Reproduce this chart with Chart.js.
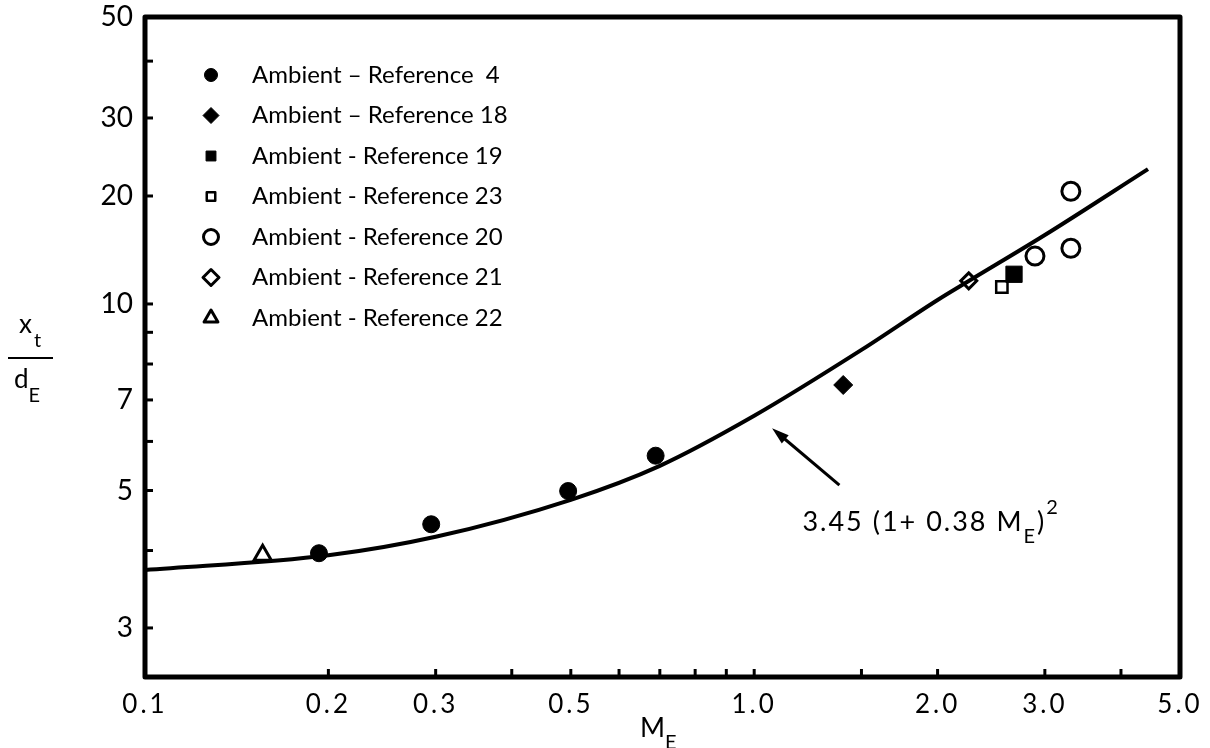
<!DOCTYPE html>
<html>
<head>
<meta charset="utf-8">
<script src="https://cdn.jsdelivr.net/npm/chart.js@4.4.1/dist/chart.umd.min.js"></script>
<style>
  html, body { margin: 0; padding: 0; background: #fff; }
  #wrap { width: 1210px; height: 748px; }
</style>
</head>
<body>
<div id="wrap"><canvas id="jet"></canvas></div>
<script>
// penetration length x_t/d_E against exit Mach number, ambient jets
const machRef4 = [0.193, 0.295, 0.495, 0.689];
const lenRef4 = [3.96, 4.41, 4.99, 5.69];
const machRef18 = [1.40];
const lenRef18 = [7.40];
const machRef19 = [2.67];
const lenRef19 = [12.1];
const machRef23 = [2.55];
const lenRef23 = [11.15];
const machRef20 = [2.89, 3.31, 3.31];
const lenRef20 = [13.6, 14.3, 20.5];
const machRef21 = [2.25];
const lenRef21 = [11.6];
const machRef22 = [0.156];
const lenRef22 = [3.93];

// correlation curve 3.45 (1 + 0.38 M_E)^2
const machFit = [0.1, 0.2, 0.3, 0.5, 0.7, 1.0, 1.5, 2.0, 2.25, 3.0, 4.43];
const lenFit = [3.72, 3.93, 4.21, 4.83, 5.48, 6.60, 8.43, 10.26, 11.59, 15.57, 23.0];

const xTickLabels = [0.1, 0.2, 0.3, 0.5, 1.0, 2.0, 3.0, 5.0];
const xMinorTicks = [0.4, 0.6, 0.7, 0.8, 0.9, 1.5, 4.0];
const yTickLabels = [3, 5, 7, 10, 20, 30, 50];
const yMinorTicks = [4, 6, 8, 9, 40];

const FONT = 'Lato, "Open Sans", sans-serif';

// log axis whose cycles are not all the same height (knots: value -> fraction of axis)
class BrokenLogScale extends Chart.LogarithmicScale {
  static id = 'brokenLog';
  static defaults = Chart.LogarithmicScale.defaults;

  getPixelForValue(value) {
    if (value === null || value === undefined || isNaN(value) || value <= 0) return NaN;
    const k = this.options.knots;
    let i = 0;
    while (i < k.length - 2 && value > k[i + 1][0]) i++;
    const a = k[i], b = k[i + 1];
    const t = (Math.log10(value) - Math.log10(a[0])) / (Math.log10(b[0]) - Math.log10(a[0]));
    return this.getPixelForDecimal(a[1] + t * (b[1] - a[1]));
  }

  getValueForPixel(pixel) {
    const d = this.getDecimalForPixel(pixel);
    const k = this.options.knots;
    let i = 0;
    while (i < k.length - 2 && d > k[i + 1][1]) i++;
    const a = k[i], b = k[i + 1];
    const t = (d - a[1]) / (b[1] - a[1]);
    return Math.pow(10, Math.log10(a[0]) + t * (Math.log10(b[0]) - Math.log10(a[0])));
  }
}
Chart.register(BrokenLogScale);

function pts(xs, ys) {
  return xs.map((x, i) => ({ x: x, y: ys[i] }));
}

function markers(label, xs, ys, style, radius, filled, border, legendRadius) {
  return {
    type: 'scatter',
    label: label,
    data: pts(xs, ys),
    pointStyle: style,
    pointRadius: radius,
    pointBackgroundColor: filled ? '#000' : '#fff',
    pointBorderColor: '#000',
    pointBorderWidth: border,
    legendRadius: legendRadius
  };
}

const datasets = [
  {
    type: 'line',
    label: 'fit',
    data: pts(machFit, lenFit),
    borderColor: '#000',
    borderWidth: 4,
    pointRadius: 0,
    cubicInterpolationMode: 'monotone',
    fill: false
  },
  markers('Ambient \u2013 Reference  4', machRef4, lenRef4, 'circle', 8.5, true, 1, 6.5),
  markers('Ambient \u2013 Reference 18', machRef18, lenRef18, 'rectRot', 9.5, true, 1, 8),
  markers('Ambient - Reference 19', machRef19, lenRef19, 'rect', 11.5, true, 1, 7),
  markers('Ambient - Reference 23', machRef23, lenRef23, 'rect', 8, false, 2.5, 6),
  markers('Ambient - Reference 20', machRef20, lenRef20, 'circle', 9, false, 3, 7.5),
  markers('Ambient - Reference 21', machRef21, lenRef21, 'rectRot', 8, false, 3, 8),
  markers('Ambient - Reference 22', machRef22, lenRef22, 'triangle', 10, false, 3, 8)
];

function drawSubText(ctx, x, y, parts) {
  // parts: [text, size, dy, extra gap]
  parts.forEach(p => {
    ctx.font = p[1] + 'px ' + FONT;
    ctx.fillText(p[0], x, y + p[2]);
    x += ctx.measureText(p[0]).width + (p[3] || 0);
  });
  return x;
}

const decorations = {
  id: 'decorations',
  afterLayout(chart) {
    // spaced-out figures along the Mach axis
    const s = chart.scales.x;
    if (!s._spaced) {
      const orig = s.drawLabels;
      s.drawLabels = function (area) {
        this.ctx.save();
        this.ctx.letterSpacing = '3px';
        orig.call(this, area);
        this.ctx.restore();
      };
      s._spaced = true;
    }
  },
  afterDatasetsDraw(chart) {
    const ctx = chart.ctx;
    const a = chart.chartArea;
    const xs = chart.scales.x, ys = chart.scales.y;
    ctx.save();
    ctx.strokeStyle = '#000';
    ctx.fillStyle = '#000';

    // frame
    ctx.lineWidth = 5;
    ctx.lineJoin = 'round';
    ctx.strokeRect(a.left, a.top, a.right - a.left, a.bottom - a.top);

    // inward tick marks
    ctx.lineWidth = 3;
    ctx.lineCap = 'butt';
    xTickLabels.concat(xMinorTicks).forEach(v => {
      if (v <= xs.min || v >= xs.max) return;
      const px = xs.getPixelForValue(v);
      ctx.beginPath();
      ctx.moveTo(px, a.bottom);
      ctx.lineTo(px, a.bottom - 8);
      ctx.stroke();
    });
    yTickLabels.concat(yMinorTicks).forEach(v => {
      if (v <= ys.min || v >= ys.max) return;
      const py = ys.getPixelForValue(v);
      ctx.beginPath();
      ctx.moveTo(a.left, py);
      ctx.lineTo(a.left + 8, py);
      ctx.stroke();
    });

    // legend inside the plot, top left
    ctx.textBaseline = 'middle';
    ctx.textAlign = 'left';
    ctx.font = '24px ' + FONT;
    let row = a.top + 58;
    chart.data.datasets.forEach(ds => {
      if (ds.type !== 'scatter') return;
      ctx.fillStyle = ds.pointBackgroundColor;
      ctx.lineWidth = ds.pointBorderWidth;
      Chart.helpers.drawPoint(ctx, {
        pointStyle: ds.pointStyle,
        radius: ds.legendRadius,
        rotation: 0,
        borderWidth: ds.pointBorderWidth
      }, a.left + 66, row);
      ctx.fillStyle = '#000';
      ctx.fillText(ds.label, a.left + 107, row);
      row += 40.5;
    });

    // correlation label with arrow
    const tip = [xs.getPixelForValue(1.07), ys.getPixelForValue(6.3)];
    const tail = [xs.getPixelForValue(1.38), ys.getPixelForValue(5.1)];
    const ang = Math.atan2(tip[1] - tail[1], tip[0] - tail[0]);
    ctx.lineWidth = 3;
    ctx.beginPath();
    ctx.moveTo(tail[0], tail[1]);
    ctx.lineTo(tip[0] - 10 * Math.cos(ang), tip[1] - 10 * Math.sin(ang));
    ctx.stroke();
    ctx.beginPath();
    ctx.moveTo(tip[0], tip[1]);
    ctx.lineTo(tip[0] - 18 * Math.cos(ang - 0.3), tip[1] - 18 * Math.sin(ang - 0.3));
    ctx.lineTo(tip[0] - 18 * Math.cos(ang + 0.3), tip[1] - 18 * Math.sin(ang + 0.3));
    ctx.closePath();
    ctx.fill();

    ctx.textBaseline = 'alphabetic';
    ctx.letterSpacing = '2px';
    const lx = xs.getPixelForValue(1.2), ly = ys.getPixelForValue(4.3);
    drawSubText(ctx, lx, ly, [
      ['3.45 (1+ 0.38 M', 27, 0],
      ['E', 20, 12],
      [')', 27, 0],
      ['2', 20, -17]
    ]);
    ctx.letterSpacing = '0px';

    // axis titles
    drawSubText(ctx, 640, 737, [['M', 27, 0], ['E', 20, 12]]);
    drawSubText(ctx, 19, 333, [['x', 26, 0, 2], ['t', 20, 14]]);
    ctx.lineWidth = 2;
    ctx.beginPath();
    ctx.moveTo(8, 358);
    ctx.lineTo(53, 358);
    ctx.stroke();
    drawSubText(ctx, 14, 388, [['d', 26, 0], ['E', 20, 14]]);

    ctx.restore();
  }
};

new Chart(document.getElementById('jet'), {
  data: { datasets: datasets },
  options: {
    responsive: true,
    maintainAspectRatio: false,
    animation: false,
    events: [],
    layout: { padding: { top: 17, right: 30, left: 0, bottom: 0 } },
    plugins: { legend: { display: false }, tooltip: { enabled: false } },
    scales: {
      x: {
        type: 'logarithmic',
        position: 'bottom',
        min: 0.1,
        max: 5,
        grid: { display: false, drawTicks: false },
        border: { display: false },
        afterBuildTicks: s => { s.ticks = xTickLabels.map(v => ({ value: v })); },
        afterFit: s => { s.height = 71; s.paddingLeft = 0; s.paddingRight = 0; },
        ticks: {
          autoSkip: false,
          maxRotation: 0,
          padding: 12,
          color: '#000',
          font: { family: FONT, size: 26 },
          callback: v => Number(v).toFixed(1)
        }
      },
      y: {
        type: 'brokenLog',
        position: 'left',
        min: 2.5,
        max: 50,
        knots: [[2.5, 0], [10, 0.5652], [20, 0.7288], [30, 0.847], [50, 1]],
        grid: { display: false, drawTicks: false },
        border: { display: false },
        afterBuildTicks: s => { s.ticks = yTickLabels.map(v => ({ value: v })); },
        afterFit: s => { s.width = 145; s.paddingTop = 0; s.paddingBottom = 0; },
        ticks: {
          autoSkip: false,
          padding: 12,
          color: '#000',
          font: { family: FONT, size: 28 },
          callback: v => String(v)
        }
      }
    }
  },
  plugins: [decorations]
});
</script>
</body>
</html>
